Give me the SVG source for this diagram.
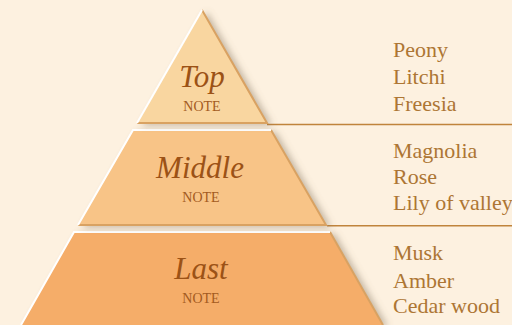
<svg xmlns="http://www.w3.org/2000/svg" width="512" height="325" viewBox="0 0 512 325">
<defs>
<filter id="sh" x="-20%" y="-20%" width="150%" height="150%">
<feGaussianBlur in="SourceAlpha" stdDeviation="3.5" result="b"/>
<feOffset in="b" dx="5" dy="2" result="o"/>
<feFlood flood-color="#7a6a55" flood-opacity="0.45"/>
<feComposite in2="o" operator="in" result="s"/>
<feMerge><feMergeNode in="s"/><feMergeNode in="SourceGraphic"/></feMerge>
</filter>
<style>
.hi{fill:none;stroke:#ffffff;stroke-width:2;stroke-linejoin:miter}
.dk{fill:none;stroke:#d9a262;stroke-width:2}
.ttl{font-family:"Liberation Serif",serif;font-style:italic;font-size:31px;fill:#9c5216;text-anchor:middle}
.note{font-family:"Liberation Serif",serif;font-size:14px;fill:#a35a20;text-anchor:middle}
.lst{font-family:"Liberation Serif",serif;font-size:22px;fill:#ad7634}
.sep{stroke:#c0843c;stroke-width:1.5}
</style>
</defs>
<rect width="512" height="325" fill="#fdf1e0"/>
<g id="connectors">
<line class="sep" x1="267" y1="124.5" x2="512" y2="124.5"/>
<line class="sep" x1="327" y1="225.7" x2="512" y2="225.7"/>
</g>
<g id="last">
<path d="M74,232 L330,232 L383,325 L21,325 Z" fill="#f5ad69" filter="url(#sh)"/>
<polyline class="dk" points="330,232 383,325"/>
<polyline class="hi" points="21,325 74,232 330,232"/>
<text class="ttl" x="201" y="279">Last</text>
<text class="note" x="201" y="303">NOTE</text>
</g>
<g id="middle">
<path d="M133,130 L271,130 L326,225 L78,225 Z" fill="#f8c487" filter="url(#sh)"/>
<polyline class="dk" points="271,130 326,225 78,225"/>
<polyline class="hi" points="78,225 133,130 271,130"/>
<text class="ttl" x="200" y="178">Middle</text>
<text class="note" x="201" y="202">NOTE</text>
</g>
<g id="top">
<path d="M202,10 L267,123 L137,123 Z" fill="#f9d6a0" filter="url(#sh)"/>
<polyline class="dk" points="202,10 267,123 137,123"/>
<polyline class="hi" points="137,123 202,10"/>
<text class="ttl" x="202" y="87">Top</text>
<text class="note" x="202" y="111">NOTE</text>
</g>
<g id="top-list">
<text class="lst" x="393" y="57">Peony</text>
<text class="lst" x="393" y="84">Litchi</text>
<text class="lst" x="393" y="111">Freesia</text>
</g>
<g id="middle-list">
<text class="lst" x="393" y="158">Magnolia</text>
<text class="lst" x="393" y="184">Rose</text>
<text class="lst" x="393" y="210">Lily of valley</text>
</g>
<g id="last-list">
<text class="lst" x="393" y="260">Musk</text>
<text class="lst" x="393" y="288">Amber</text>
<text class="lst" x="393" y="313">Cedar wood</text>
</g>
</svg>
